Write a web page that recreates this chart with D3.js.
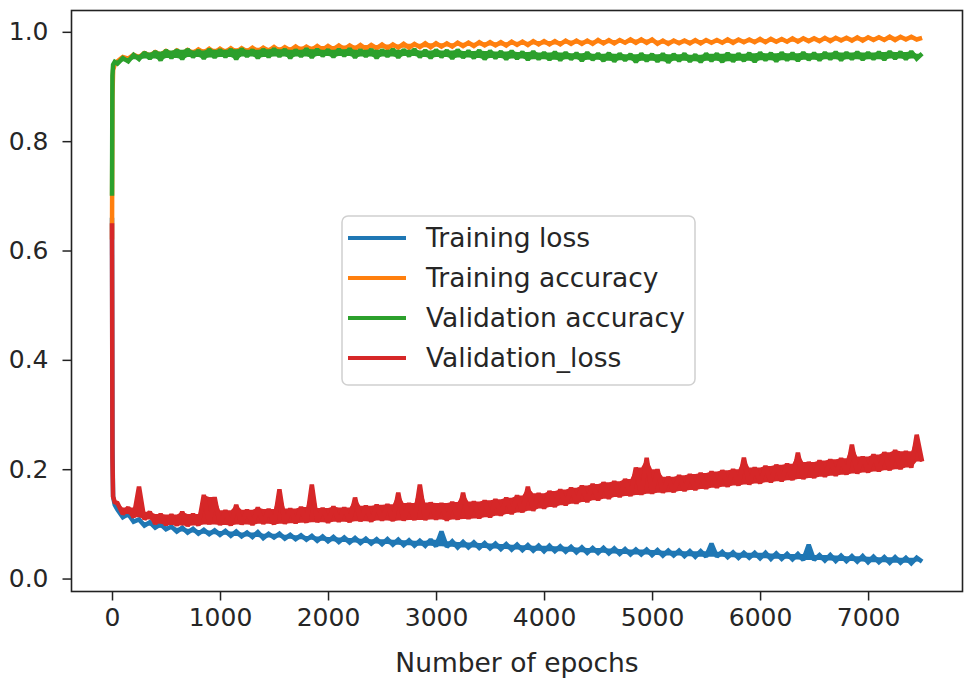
<!DOCTYPE html>
<html>
<head>
<meta charset="utf-8">
<script src="https://cdn.jsdelivr.net/npm/d3@7"></script>
<style>
  body { margin: 0; background: #fff; }
  svg { display: block; }
  text { font-family: "DejaVu Sans", sans-serif; }
</style>
</head>
<body>
<div id="chart"></div>
<script>
// epochs: a few early points, then every 50 epochs up to 7500
const earlyEpochs = [0, 4, 10, 25];
const epochs = earlyEpochs.concat(d3.range(50, 7501, 50));

const trainingLoss = [
  0.66, 0.24, 0.15, 0.135,
  0.126, 0.112, 0.118, 0.104, 0.108, 0.097, 0.103, 0.093, 0.099, 0.090,
  0.095, 0.086, 0.093, 0.084, 0.091, 0.082, 0.089, 0.081, 0.088, 0.080,
  0.087, 0.078, 0.086, 0.077, 0.084, 0.076, 0.085, 0.074, 0.082, 0.075,
  0.082, 0.073, 0.080, 0.072, 0.079, 0.071, 0.078, 0.069, 0.077, 0.068,
  0.076, 0.067, 0.075, 0.066, 0.074, 0.065, 0.073, 0.064, 0.072, 0.063,
  0.072, 0.062, 0.071, 0.061, 0.070, 0.060, 0.069, 0.060, 0.071, 0.059,
  0.086, 0.058, 0.068, 0.057, 0.067, 0.057, 0.066, 0.056, 0.065, 0.055,
  0.064, 0.054, 0.063, 0.053, 0.062, 0.052, 0.061, 0.051, 0.060, 0.050,
  0.060, 0.050, 0.059, 0.049, 0.058, 0.048, 0.057, 0.047, 0.056, 0.047,
  0.056, 0.046, 0.055, 0.045, 0.054, 0.044, 0.053, 0.044, 0.053, 0.043,
  0.052, 0.042, 0.051, 0.042, 0.051, 0.041, 0.050, 0.040, 0.050, 0.040,
  0.064, 0.040, 0.049, 0.039, 0.048, 0.038, 0.047, 0.038, 0.047, 0.037,
  0.047, 0.036, 0.046, 0.036, 0.045, 0.035, 0.045, 0.034, 0.062, 0.034,
  0.043, 0.033, 0.043, 0.032, 0.042, 0.032, 0.041, 0.031, 0.041, 0.030,
  0.040, 0.030, 0.039, 0.029, 0.039, 0.029, 0.038, 0.028, 0.038, 0.031
];

const trainingAccuracy = [
  0.62, 0.88, 0.93, 0.94,
  0.946, 0.954, 0.951, 0.958, 0.954, 0.961, 0.957, 0.963, 0.958, 0.965,
  0.959, 0.966, 0.960, 0.967, 0.961, 0.968, 0.962, 0.969, 0.962, 0.969,
  0.963, 0.970, 0.963, 0.970, 0.964, 0.971, 0.964, 0.971, 0.965, 0.972,
  0.965, 0.972, 0.966, 0.973, 0.966, 0.973, 0.967, 0.974, 0.967, 0.974,
  0.968, 0.975, 0.968, 0.975, 0.969, 0.976, 0.969, 0.976, 0.970, 0.977,
  0.970, 0.977, 0.971, 0.978, 0.971, 0.978, 0.972, 0.979, 0.972, 0.979,
  0.973, 0.979, 0.973, 0.980, 0.974, 0.980, 0.974, 0.981, 0.975, 0.981,
  0.975, 0.981, 0.975, 0.982, 0.976, 0.982, 0.976, 0.983, 0.977, 0.983,
  0.977, 0.983, 0.977, 0.984, 0.978, 0.984, 0.978, 0.984, 0.978, 0.985,
  0.979, 0.985, 0.979, 0.985, 0.980, 0.986, 0.980, 0.986, 0.980, 0.986,
  0.978, 0.984, 0.978, 0.984, 0.979, 0.984, 0.979, 0.985, 0.979, 0.985,
  0.980, 0.985, 0.980, 0.986, 0.980, 0.986, 0.981, 0.986, 0.981, 0.987,
  0.981, 0.987, 0.982, 0.987, 0.982, 0.988, 0.982, 0.988, 0.983, 0.988,
  0.983, 0.989, 0.983, 0.989, 0.984, 0.989, 0.984, 0.990, 0.984, 0.990,
  0.985, 0.990, 0.985, 0.991, 0.985, 0.991, 0.986, 0.991, 0.986, 0.989
];

const validationAccuracy = [
  0.70, 0.92, 0.94, 0.945,
  0.942, 0.952, 0.946, 0.958, 0.950, 0.962, 0.951, 0.964, 0.948, 0.966,
  0.952, 0.967, 0.950, 0.968, 0.954, 0.966, 0.951, 0.968, 0.953, 0.967,
  0.954, 0.968, 0.950, 0.969, 0.955, 0.967, 0.952, 0.968, 0.954, 0.969,
  0.955, 0.968, 0.952, 0.967, 0.955, 0.969, 0.953, 0.968, 0.956, 0.967,
  0.954, 0.968, 0.956, 0.969, 0.953, 0.967, 0.955, 0.968, 0.952, 0.967,
  0.955, 0.968, 0.953, 0.967, 0.956, 0.968, 0.954, 0.966, 0.952, 0.967,
  0.954, 0.966, 0.951, 0.967, 0.953, 0.965, 0.952, 0.966, 0.950, 0.965,
  0.952, 0.964, 0.950, 0.965, 0.951, 0.963, 0.949, 0.964, 0.950, 0.962,
  0.949, 0.963, 0.948, 0.962, 0.950, 0.961, 0.947, 0.962, 0.949, 0.960,
  0.947, 0.961, 0.946, 0.960, 0.948, 0.959, 0.945, 0.960, 0.947, 0.959,
  0.946, 0.960, 0.944, 0.959, 0.947, 0.960, 0.946, 0.958, 0.945, 0.960,
  0.947, 0.960, 0.945, 0.961, 0.946, 0.960, 0.947, 0.961, 0.945, 0.962,
  0.948, 0.961, 0.946, 0.962, 0.948, 0.961, 0.947, 0.962, 0.949, 0.961,
  0.948, 0.962, 0.950, 0.963, 0.948, 0.962, 0.950, 0.963, 0.949, 0.962,
  0.950, 0.963, 0.949, 0.964, 0.951, 0.963, 0.950, 0.964, 0.951, 0.960
];

const validationLoss = [
  0.65, 0.22, 0.15, 0.14,
  0.138, 0.118, 0.130, 0.112, 0.168, 0.108, 0.122, 0.100, 0.118, 0.098,
  0.117, 0.097, 0.122, 0.096, 0.118, 0.097, 0.153, 0.099, 0.149, 0.098,
  0.125, 0.097, 0.135, 0.099, 0.126, 0.098, 0.130, 0.100, 0.127, 0.099,
  0.163, 0.100, 0.128, 0.101, 0.131, 0.102, 0.172, 0.103, 0.129, 0.102,
  0.132, 0.104, 0.130, 0.103, 0.148, 0.105, 0.133, 0.104, 0.135, 0.106,
  0.136, 0.105, 0.157, 0.106, 0.138, 0.107, 0.172, 0.107, 0.139, 0.108,
  0.138, 0.106, 0.140, 0.108, 0.157, 0.109, 0.141, 0.110, 0.143, 0.112,
  0.145, 0.115, 0.148, 0.118, 0.152, 0.121, 0.168, 0.124, 0.156, 0.128,
  0.160, 0.131, 0.163, 0.134, 0.166, 0.137, 0.170, 0.140, 0.173, 0.143,
  0.176, 0.146, 0.178, 0.149, 0.182, 0.151, 0.203, 0.153, 0.221, 0.155,
  0.200, 0.157, 0.186, 0.158, 0.189, 0.160, 0.191, 0.162, 0.193, 0.164,
  0.196, 0.166, 0.198, 0.168, 0.200, 0.170, 0.221, 0.172, 0.203, 0.174,
  0.206, 0.176, 0.208, 0.178, 0.210, 0.180, 0.230, 0.182, 0.213, 0.184,
  0.216, 0.186, 0.218, 0.188, 0.220, 0.190, 0.245, 0.192, 0.223, 0.194,
  0.227, 0.196, 0.231, 0.198, 0.235, 0.200, 0.233, 0.203, 0.263, 0.214
];

const seriesNames = ["Training loss", "Training accuracy", "Validation accuracy", "Validation_loss"];
const seriesValues = [trainingLoss, trainingAccuracy, validationAccuracy, validationLoss];
const colors = ["#1f77b4", "#ff7f0e", "#2ca02c", "#d62728"];
const xTicks = [0, 1000, 2000, 3000, 4000, 5000, 6000, 7000];
const yTicks = [0.0, 0.2, 0.4, 0.6, 0.8, 1.0];

const W = 964, H = 680;
const plot = { left: 71.5, right: 962.5, top: 10.5, bottom: 591.5 };

const svg = d3.select("#chart")
    .append("svg")
    .attr("width", W)
    .attr("height", H);

const x = d3.scaleLinear()
    .domain([-375, 7874])
    .range([plot.left, plot.right]);

const y = d3.scaleLinear()
    .domain([-0.0237, 1.039])
    .range([plot.bottom, plot.top]);

// the dense per-epoch noise of the original shows as a solid band:
// fill between the zigzag's lows and highs, then stroke the line on top
function band(values) {
    return values.map((v, i) => {
        const a = i > 0 ? values[i - 1] : v;
        const b = i < values.length - 1 ? values[i + 1] : v;
        return {
            e: epochs[i],
            lo: Math.min(v, Math.max(a, b)),
            hi: Math.max(v, Math.min(a, b))
        };
    });
}

const area = d3.area()
    .x(d => x(d.e))
    .y0(d => y(d.lo))
    .y1(d => y(d.hi));

const line = d3.line()
    .x((d, i) => x(epochs[i]))
    .y(d => y(d));

const series = svg.append("g")
    .selectAll("g")
    .data(seriesValues)
    .enter()
    .append("g");

series.append("path")
    .attr("d", d => area(band(d)))
    .attr("fill", (d, i) => colors[i])
    .attr("stroke", "none");

series.append("path")
    .attr("d", d => line(d))
    .attr("fill", "none")
    .attr("stroke", (d, i) => colors[i])
    .attr("stroke-width", 4.5)
    .attr("stroke-linejoin", "miter")
    .attr("stroke-miterlimit", 1.5);

// axes
const xAxis = svg.append("g")
    .attr("transform", "translate(0," + plot.bottom + ")")
    .call(d3.axisBottom(x).tickValues(xTicks).tickFormat(d3.format("d")).tickSize(9).tickPadding(8));

const yAxis = svg.append("g")
    .attr("transform", "translate(" + plot.left + ",0)")
    .call(d3.axisLeft(y).tickValues(yTicks).tickFormat(d3.format(".1f")).tickSize(9).tickPadding(14));

[xAxis, yAxis].forEach(a => {
    a.select(".domain").remove();
    a.selectAll(".tick line").attr("stroke", "#222").attr("stroke-width", 1.5);
    a.selectAll(".tick text")
        .attr("fill", "#262626")
        .style("font-size", "25px")
        .style("font-family", "'DejaVu Sans', sans-serif");
});

// frame
svg.append("rect")
    .attr("x", plot.left)
    .attr("y", plot.top)
    .attr("width", plot.right - plot.left)
    .attr("height", plot.bottom - plot.top)
    .attr("fill", "none")
    .attr("stroke", "#222")
    .attr("stroke-width", 1.6);

// x label
svg.append("text")
    .attr("x", (plot.left + plot.right) / 2)
    .attr("y", 672)
    .attr("text-anchor", "middle")
    .attr("fill", "#262626")
    .style("font-size", "26.5px")
    .text("Number of epochs");

// legend
const legend = svg.append("g");
legend.append("rect")
    .attr("x", 342)
    .attr("y", 216)
    .attr("width", 353)
    .attr("height", 169)
    .attr("rx", 6)
    .attr("fill", "#fff")
    .attr("fill-opacity", 0.8)
    .attr("stroke", "#d0d0d0")
    .attr("stroke-width", 1.5);

const items = legend.selectAll(".item")
    .data(seriesNames)
    .enter()
    .append("g")
    .attr("class", "item")
    .attr("transform", (d, i) => "translate(0," + (238 + i * 40) + ")");

items.append("line")
    .attr("x1", 348)
    .attr("x2", 406)
    .attr("stroke", (d, i) => colors[i])
    .attr("stroke-width", 4);

items.append("text")
    .attr("x", 426)
    .attr("dy", "0.35em")
    .attr("fill", "#262626")
    .style("font-size", "26.5px")
    .text(d => d);
</script>
</body>
</html>
